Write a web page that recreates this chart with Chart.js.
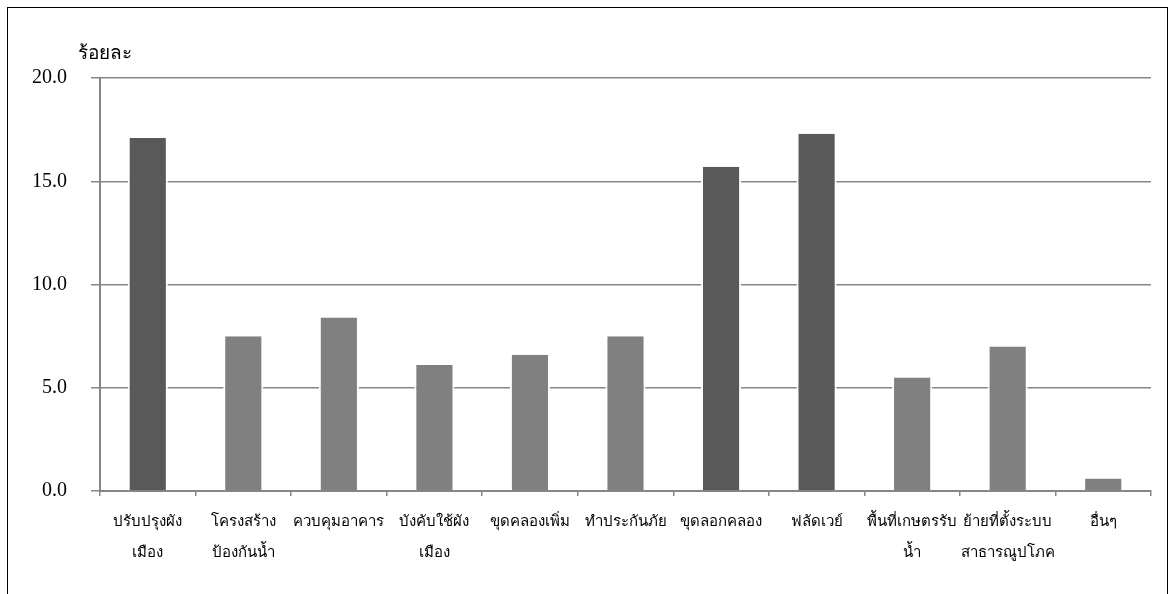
<!DOCTYPE html>
<html>
<head>
<meta charset="utf-8">
<script src="https://cdn.jsdelivr.net/npm/chart.js@4.4.0/dist/chart.umd.min.js"></script>
<style>
  html, body { margin: 0; padding: 0; background: #fff; }
  body { width: 1175px; height: 594px; position: relative; overflow: hidden; }
  .frame { position: absolute; left: 7px; top: 7px; width: 1161px; height: 640px; border: 1.5px solid #000; box-sizing: border-box; }
  .unit { position: absolute; left: 78px; top: 37px; font: 19px "Liberation Serif", "DejaVu Serif", serif; color: #000; }
  #chart { position: absolute; left: 0; top: 0; }
</style>
</head>
<body>
<div class="frame"></div>
<canvas id="chart" width="1175" height="594"></canvas>
<div class="unit">ร้อยละ</div>
<script>
// categories (multi-line labels)
const categories = [
    ['ปรับปรุงผัง', 'เมือง'],
    ['โครงสร้าง', 'ป้องกันน้ำ'],
    'ควบคุมอาคาร',
    ['บังคับใช้ผัง', 'เมือง'],
    'ขุดคลองเพิ่ม',
    'ทำประกันภัย',
    'ขุดลอกคลอง',
    'ฟลัดเวย์',
    ['พื้นที่เกษตรรับ', 'น้ำ'],
    ['ย้ายที่ตั้งระบบ', 'สาธารณูปโภค'],
    'อื่นๆ'
];
// percentages
const values = [17.1, 7.5, 8.4, 6.1, 6.6, 7.5, 15.7, 17.3, 5.5, 7.0, 0.6];
const yTicks = [0, 5, 10, 15, 20];

// darker fill for the top three
const darkBars = [0, 6, 7];
const colors = values.map((v, i) => darkBars.includes(i) ? '#595959' : '#808080');

const ctx = document.querySelector('#chart').getContext('2d');
const family = '"Liberation Serif", "DejaVu Serif", serif';

const config = {
    type: 'bar',
    data: {
        labels: categories,
        datasets: [{
            data: values,
            backgroundColor: colors,
            borderColor: '#ffffff',
            borderWidth: { left: 2, right: 2, top: 0, bottom: 0 },
            categoryPercentage: 1,
            barPercentage: 0.42
        }]
    },
    options: {
        responsive: false,
        animation: false,
        layout: { padding: { left: 0, right: 24, top: 78, bottom: 0 } },
        plugins: {
            legend: { display: false },
            tooltip: { enabled: false }
        },
        scales: {
            x: {
                offset: true,
                grid: {
                    offset: true,
                    drawOnChartArea: false,
                    drawTicks: true,
                    tickLength: 5,
                    color: '#868686',
                    lineWidth: 1.5
                },
                border: { color: '#868686', width: 2 },
                ticks: {
                    color: '#000',
                    font: { family: family, size: 15, lineHeight: 2.1 },
                    padding: 10,
                    maxRotation: 0,
                    autoSkip: false
                },
                afterFit: (scale) => { scale.height = 103; }
            },
            y: {
                min: 0,
                max: 20,
                afterBuildTicks: (scale) => {
                    scale.ticks = yTicks.map(v => ({ value: v }));
                },
                grid: {
                    color: '#868686',
                    lineWidth: 1.5,
                    tickLength: 9
                },
                border: { color: '#868686', width: 2 },
                ticks: {
                    color: '#000',
                    font: { family: family, size: 20 },
                    padding: 24,
                    callback: (v) => v.toFixed(1)
                },
                afterFit: (scale) => { scale.width = 100; }
            }
        }
    }
};

const chart = new Chart(ctx, config);
</script>
</body>
</html>
